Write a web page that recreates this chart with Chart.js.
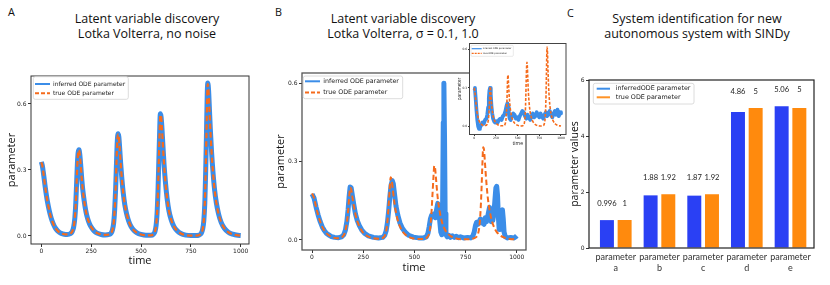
<!DOCTYPE html>
<html>
<head>
<meta charset="utf-8">
<script src="https://cdn.jsdelivr.net/npm/chart.js@4/dist/chart.umd.min.js"></script>
<style>
  body { margin: 0; background: #fff; width: 830px; height: 285px; position: relative; overflow: hidden;
         font-family: "Open Sans", sans-serif; color: #111; }
  canvas { position: absolute; }
  .title { position: absolute; text-align: center; font-size: 12.5px; line-height: 15.3px; white-space: nowrap; }
  .letter { position: absolute; font-size: 10.8px; line-height: 10.8px; }
</style>
</head>
<body>
<div class="letter" style="left:8px;top:7.2px">A</div>
<div class="letter" style="left:275px;top:7.2px">B</div>
<div class="letter" style="left:567px;top:7.8px">C</div>

<div class="title" style="left:47px;width:200px;top:10.6px">Latent variable discovery<br>Lotka Volterra, no noise</div>
<div class="title" style="left:303px;width:200px;top:10.6px">Latent variable discovery<br>Lotka Volterra, σ = 0.1, 1.0</div>
<div class="title" style="left:587px;width:220px;top:10.6px">System identification for new<br>autonomous system with SINDy</div>

<canvas id="chartA" width="255" height="210" style="left:0;top:70px"></canvas>
<canvas id="chartB" width="260" height="214" style="left:272px;top:66px"></canvas>
<canvas id="chartInset" width="113" height="108" style="left:455px;top:40px"></canvas>
<canvas id="chartC" width="264" height="211" style="left:556px;top:74px"></canvas>

<script>
// -----------------------
// DATA
// -----------------------

const timeTicks = [0, 250, 500, 750, 1000];
const paramTicks = [0, 0.3, 0.6];

// panel A (no noise): inferred and true curves sit on top of each other
const timeA = [0,5,10,20,30,40,50,60,70,80,90,100,115,130,145,155,162,168,173,177,181,185,189,193,197,202,208,215,223,232,242,253,265,280,300,320,340,350,357,363,368,373,377,381,385,389,393,398,404,411,419,428,438,450,465,480,500,525,550,562,570,576,581,585,589,593,597,601,605,610,616,623,631,640,651,664,680,700,725,750,775,792,802,809,815,820,824,828,832,835,839,843,848,854,861,869,878,889,902,918,938,960,985,1000];
const trueA = [0.335,0.32,0.29,0.22,0.16,0.115,0.08,0.055,0.037,0.025,0.017,0.012,0.008,0.007,0.01,0.02,0.04,0.08,0.15,0.24,0.33,0.38,0.39,0.37,0.33,0.27,0.21,0.16,0.115,0.08,0.055,0.037,0.023,0.013,0.007,0.005,0.007,0.013,0.028,0.06,0.12,0.22,0.33,0.43,0.462,0.45,0.4,0.33,0.26,0.195,0.14,0.1,0.068,0.043,0.025,0.014,0.007,0.003,0.003,0.008,0.02,0.05,0.11,0.2,0.33,0.46,0.55,0.54,0.49,0.41,0.32,0.24,0.17,0.115,0.075,0.045,0.025,0.011,0.004,0.002,0.002,0.005,0.012,0.03,0.07,0.15,0.28,0.45,0.64,0.69,0.66,0.58,0.48,0.38,0.29,0.21,0.15,0.1,0.062,0.035,0.017,0.008,0.003,0.002];
const inferredA = [0.337,0.32,0.29,0.22,0.16,0.115,0.08,0.055,0.037,0.025,0.017,0.012,0.008,0.007,0.01,0.02,0.04,0.08,0.15,0.24,0.33,0.38,0.392,0.37,0.33,0.27,0.21,0.16,0.115,0.08,0.055,0.037,0.023,0.013,0.007,0.005,0.007,0.013,0.028,0.06,0.12,0.22,0.33,0.43,0.465,0.45,0.4,0.33,0.26,0.195,0.14,0.1,0.068,0.043,0.025,0.014,0.007,0.003,0.003,0.008,0.02,0.05,0.11,0.2,0.33,0.46,0.555,0.54,0.49,0.41,0.32,0.24,0.17,0.115,0.075,0.045,0.025,0.011,0.004,0.002,0.002,0.005,0.012,0.03,0.07,0.15,0.28,0.45,0.64,0.695,0.66,0.58,0.48,0.38,0.29,0.21,0.15,0.1,0.062,0.035,0.017,0.008,0.003,0.002];

// panel B (sigma = 0.1)
const timeTrueB = [0,10,20,30,40,50,60,70,80,95,110,130,145,155,163,170,176,181,186,191,197,204,212,221,231,243,257,275,300,325,345,355,362,368,374,379,384,389,395,402,410,419,429,441,455,472,495,520,545,560,570,577,583,588,593,597,601,606,612,619,627,636,647,660,677,700,730,760,785,800,810,817,823,828,832,836,840,845,851,858,866,875,886,900,918,940,965,1000];
const trueB = [0.178,0.16,0.125,0.095,0.07,0.05,0.036,0.026,0.019,0.012,0.008,0.007,0.01,0.018,0.035,0.065,0.11,0.16,0.2,0.195,0.165,0.13,0.098,0.072,0.052,0.035,0.022,0.013,0.007,0.005,0.008,0.016,0.035,0.07,0.13,0.19,0.24,0.23,0.19,0.145,0.105,0.075,0.052,0.034,0.021,0.012,0.006,0.004,0.004,0.009,0.02,0.045,0.1,0.17,0.24,0.284,0.275,0.23,0.175,0.13,0.094,0.065,0.043,0.027,0.015,0.007,0.003,0.003,0.005,0.01,0.022,0.05,0.11,0.2,0.29,0.355,0.345,0.29,0.225,0.165,0.12,0.083,0.055,0.033,0.018,0.009,0.004,0.002];
const timeInferredB = [0,10,20,30,40,50,60,70,80,95,110,130,145,155,163,170,176,181,186,191,197,204,212,221,231,243,257,275,300,325,345,355,362,368,374,380,386,392,397,403,410,419,429,441,455,472,495,520,545,558,566,572,578,584,590,596,602,608,614,619,624,629,634,638,641,644,647,650,654,660,668,676,685,695,705,715,725,740,760,775,785,792,798,804,810,816,822,828,834,840,846,852,858,863,867,871,875,879,883,888,893,898,902,906,910,914,918,922,926,930,934,938,944,955,970,985,995,1000];
const inferredB = [0.176,0.16,0.125,0.095,0.07,0.05,0.036,0.026,0.02,0.013,0.01,0.009,0.012,0.02,0.038,0.07,0.115,0.165,0.203,0.2,0.17,0.135,0.1,0.074,0.055,0.038,0.025,0.016,0.01,0.008,0.01,0.018,0.035,0.065,0.11,0.165,0.21,0.227,0.215,0.175,0.13,0.095,0.066,0.045,0.03,0.018,0.011,0.008,0.008,0.012,0.025,0.05,0.08,0.095,0.09,0.1,0.085,0.115,0.14,0.12,0.07,0.03,0.02,0.15,0.45,0.6,0.4,0.1,0.02,0.012,0.018,0.01,0.016,0.01,0.014,0.009,0.012,0.008,0.01,0.008,0.015,0.03,0.055,0.068,0.06,0.07,0.08,0.065,0.075,0.06,0.085,0.07,0.09,0.11,0.125,0.09,0.07,0.085,0.075,0.1,0.15,0.2,0.205,0.17,0.09,0.04,0.06,0.09,0.11,0.115,0.08,0.03,0.012,0.008,0.01,0.008,0.012,0.016];

// inset (sigma = 1.0)
const timeTrueInset = [0,10,20,30,40,55,70,90,110,130,148,160,168,174,179,183,187,192,198,206,216,228,243,262,285,310,335,352,362,370,376,381,385,389,394,400,408,418,430,445,465,490,520,550,568,580,588,594,599,604,608,612,617,624,633,645,660,680,705,735,770,795,808,818,826,832,837,841,845,850,857,866,878,893,912,935,960,1000];
const trueInset = [0.3,0.25,0.18,0.12,0.08,0.045,0.025,0.012,0.006,0.006,0.015,0.04,0.09,0.17,0.26,0.31,0.3,0.25,0.19,0.13,0.085,0.055,0.032,0.017,0.008,0.004,0.004,0.012,0.035,0.09,0.18,0.3,0.38,0.4,0.35,0.27,0.19,0.125,0.08,0.048,0.025,0.011,0.004,0.003,0.01,0.035,0.1,0.22,0.36,0.47,0.5,0.47,0.38,0.27,0.18,0.11,0.065,0.033,0.014,0.005,0.002,0.006,0.02,0.07,0.2,0.4,0.58,0.62,0.57,0.45,0.32,0.21,0.13,0.075,0.04,0.018,0.008,0.002];
const timeInferredInset = [0,8,16,25,35,45,55,65,80,95,110,125,140,150,160,168,175,182,190,198,207,217,228,240,255,270,285,300,315,330,345,360,372,382,390,398,408,420,435,450,465,480,495,510,525,540,555,570,585,600,615,630,645,660,675,690,705,720,735,750,765,780,795,810,825,840,855,870,885,900,915,930,945,960,975,990,1000];
const inferredInset = [0.3,0.29,0.22,0.13,0.05,0.0,-0.02,-0.01,0.01,0.03,0.02,0.05,0.06,0.09,0.15,0.22,0.28,0.3,0.25,0.16,0.1,0.06,0.04,0.03,0.04,0.03,0.05,0.06,0.05,0.08,0.09,0.12,0.16,0.18,0.15,0.1,0.06,0.05,0.08,0.1,0.09,0.06,0.07,0.05,0.08,0.1,0.12,0.11,0.08,0.06,0.09,0.07,0.05,0.08,0.1,0.07,0.08,0.11,0.09,0.07,0.1,0.08,0.06,0.09,0.11,0.08,0.1,0.12,0.09,0.07,0.1,0.12,0.09,0.13,0.08,0.11,0.1];

// panel C
const paramNames = [['parameter', 'a'], ['parameter', 'b'], ['parameter', 'c'], ['parameter', 'd'], ['parameter', 'e']];
const inferredParams = [0.996, 1.88, 1.87, 4.86, 5.06];
const trueParams = [1, 1.92, 1.92, 5, 5];
const valueTicks = [0, 2, 4, 6];

// -----------------------
// HELPERS / PLUGINS
// -----------------------

const BLUE = '#3b8de8';
const ORANGE = '#f56b1c';
const tickFont = { family: 'DejaVu Sans', size: 6 };

function pts(t, v) {
    return t.map((x, i) => ({ x: x, y: v[i] }));
}

// full box around the plot area, like matplotlib spines
const frame = {
    id: 'frame',
    beforeDraw(chart, args, o) {
        if (!o.fill) return;
        const a = chart.chartArea;
        chart.ctx.save();
        chart.ctx.fillStyle = o.fill;
        chart.ctx.fillRect(a.left, a.top, a.width, a.height);
        chart.ctx.restore();
    },
    afterDatasetsDraw(chart, args, o) {
        const { ctx, chartArea: a } = chart;
        ctx.save();
        ctx.strokeStyle = o.color || '#333';
        ctx.lineWidth = o.width || 1;
        ctx.strokeRect(a.left, a.top, a.width, a.height);
        ctx.restore();
    }
};

// legend box drawn inside the plot area
const boxLegend = {
    id: 'boxLegend',
    afterDatasetsDraw(chart, args, o) {
        const { ctx, chartArea: a } = chart;
        ctx.save();
        ctx.fillStyle = 'rgba(255,255,255,0.85)';
        ctx.strokeStyle = '#d3d3d3';
        ctx.lineWidth = o.border || 0.8;
        ctx.beginPath();
        ctx.roundRect(a.left + o.x, a.top + o.y, o.w, o.h, o.r || 2);
        ctx.fill();
        ctx.stroke();
        ctx.font = o.font;
        ctx.textBaseline = 'middle';
        chart.data.datasets.forEach((ds, i) => {
            const ry = a.top + o.rows[i];
            ctx.strokeStyle = ds.legendColor || ds.borderColor;
            ctx.lineWidth = o.lineWidth;
            ctx.setLineDash(ds.borderDash ? o.dash : []);
            ctx.beginPath();
            ctx.moveTo(a.left + o.line[0], ry);
            ctx.lineTo(a.left + o.line[1], ry);
            ctx.stroke();
            ctx.setLineDash([]);
            ctx.fillStyle = '#222';
            ctx.fillText(ds.label, a.left + o.textX, ry);
        });
        ctx.restore();
    }
};

// numbers above the bars, at the taller bar of the pair + 0.5
const barValues = {
    id: 'barValues',
    afterDatasetsDraw(chart, args, o) {
        if (!o.font) return;
        const { ctx } = chart;
        const y = chart.scales.y;
        ctx.save();
        ctx.font = o.font;
        ctx.fillStyle = '#222';
        ctx.textAlign = 'center';
        ctx.textBaseline = 'alphabetic';
        chart.data.datasets.forEach((ds, di) => {
            chart.getDatasetMeta(di).data.forEach((bar, i) => {
                const top = Math.max(...chart.data.datasets.map(d => d.data[i].y));
                ctx.fillText(String(ds.data[i].y), bar.x, y.getPixelForValue(top + 0.5));
            });
        });
        ctx.restore();
    }
};

function timeAxis(min, max, height, titlePad, opts) {
    return {
        type: 'linear', min: min, max: max,
        afterBuildTicks: s => { s.ticks = opts.ticks.map(v => ({ value: v })); },
        afterFit: s => { s.height = height; },
        ticks: { font: opts.font || tickFont, color: '#222', padding: opts.tickPad ?? 0.5, maxRotation: 0, autoSkip: false,
                 callback: v => String(v) },
        grid: { drawOnChartArea: false, drawTicks: true, tickLength: opts.tickLen || 3, color: '#333' },
        border: { display: false },
        title: { display: true, text: 'time', font: { family: 'Open Sans', size: opts.titleSize || 11 }, color: '#111',
                 padding: { top: 0, bottom: titlePad } }
    };
}

function paramAxis(min, max, width, titlePad, opts) {
    return {
        type: 'linear', min: min, max: max,
        afterBuildTicks: s => { s.ticks = opts.ticks.map(v => ({ value: v })); },
        afterFit: s => { s.width = width; },
        ticks: { font: opts.font || tickFont, color: '#222', padding: opts.tickPad ?? 1.5,
                 callback: v => v.toFixed(1) },
        grid: { drawOnChartArea: false, drawTicks: true, tickLength: opts.tickLen || 3, color: '#333' },
        border: { display: false },
        title: { display: true, text: 'parameter', font: { family: 'Open Sans', size: opts.titleSize || 11 }, color: '#111',
                 padding: { top: titlePad, bottom: 0 } }
    };
}

const common = {
    responsive: false,
    animation: false,
    devicePixelRatio: 1
};

// -----------------------
// PANEL A
// -----------------------

new Chart(document.getElementById('chartA'), {
    type: 'line',
    data: {
        datasets: [{
            label: 'inferred ODE parameter',
            data: pts(timeA, inferredA),
            borderColor: BLUE, borderWidth: 5, pointRadius: 0,
            cubicInterpolationMode: 'monotone', borderJoinStyle: 'round', order: 1
        }, {
            label: 'true ODE parameter',
            data: pts(timeA, trueA),
            borderColor: ORANGE, borderWidth: 2.2, borderDash: [5.5, 3], pointRadius: 0,
            cubicInterpolationMode: 'monotone', order: 0
        }]
    },
    options: {
        ...common,
        layout: { padding: { top: 6, right: 6, left: 0, bottom: 0 } },
        scales: {
            x: timeAxis(-51.7, 1041.6, 36, 12.4, { ticks: timeTicks }),
            y: paramAxis(-0.0364, 0.727, 31, 5, { ticks: paramTicks })
        },
        plugins: {
            legend: { display: false }, tooltip: { enabled: false },
            frame: { color: '#333', width: 1 },
            boxLegend: { x: 2.3, y: 0.7, w: 95, h: 22.6, rows: [8, 17.3], line: [4, 19], textX: 22,
                         font: '6px "DejaVu Sans"', lineWidth: 2, dash: [4, 2] }
        }
    },
    plugins: [frame, boxLegend]
});

// -----------------------
// PANEL B
// -----------------------

new Chart(document.getElementById('chartB'), {
    type: 'line',
    data: {
        datasets: [{
            label: 'inferred ODE parameter',
            data: pts(timeInferredB, inferredB),
            borderColor: BLUE, borderWidth: 5, pointRadius: 0, tension: 0,
            borderJoinStyle: 'round', order: 1
        }, {
            label: 'true ODE parameter',
            data: pts(timeTrueB, trueB),
            borderColor: ORANGE, borderWidth: 2, borderDash: [5.5, 3], pointRadius: 0,
            cubicInterpolationMode: 'monotone', order: 0
        }]
    },
    options: {
        ...common,
        layout: { padding: { top: 7, right: 6, left: 0, bottom: 0 } },
        scales: {
            x: timeAxis(-49, 1045, 30, 5.4, { ticks: timeTicks }),
            y: paramAxis(-0.0383, 0.639, 30, 2.2, { ticks: paramTicks })
        },
        plugins: {
            legend: { display: false }, tooltip: { enabled: false },
            frame: { color: '#555', width: 1.3 },
            boxLegend: { x: 1.3, y: 3, w: 99.4, h: 22.7, rows: [8.3, 19.5], line: [3, 18], textX: 21.3,
                         font: '6.3px "DejaVu Sans"', lineWidth: 2, dash: [4, 2] }
        }
    },
    plugins: [frame, boxLegend]
});

// -----------------------
// INSET (in panel B)
// -----------------------

new Chart(document.getElementById('chartInset'), {
    type: 'line',
    data: {
        datasets: [{
            label: 'inferred ODE parameter',
            data: pts(timeInferredInset, inferredInset),
            borderColor: BLUE, borderWidth: 3.8, pointRadius: 0, tension: 0,
            borderJoinStyle: 'round', order: 1
        }, {
            label: 'true ODE parameter',
            data: pts(timeTrueInset, trueInset),
            borderColor: ORANGE, borderWidth: 1.6, borderDash: [3, 1.6], pointRadius: 0,
            cubicInterpolationMode: 'monotone', order: 0
        }]
    },
    options: {
        ...common,
        layout: { padding: { top: 3.5, right: 2, left: 0, bottom: 0 } },
        scales: {
            x: timeAxis(-55, 1058, 13.5, 1, { ticks: timeTicks, font: { family: 'DejaVu Sans', size: 3 },
                                               tickLen: 1.5, tickPad: 0.3, titleSize: 5 }),
            y: paramAxis(-0.064, 0.648, 14.5, 2, { ticks: paramTicks, font: { family: 'DejaVu Sans', size: 3 },
                                                    tickLen: 1.5, tickPad: 0.8, titleSize: 4.6 })
        },
        plugins: {
            legend: { display: false }, tooltip: { enabled: false },
            frame: { color: '#444', width: 1, fill: '#fff' },
            boxLegend: { x: 1.5, y: 1.8, w: 42.3, h: 11, rows: [5.2, 9.8], line: [2.2, 12.2], textX: 13.2,
                         font: '2.4px "DejaVu Sans"', lineWidth: 1.2, dash: [2, 1], border: 0.5, r: 1 }
        }
    },
    plugins: [frame, boxLegend]
});

// -----------------------
// PANEL C
// -----------------------

new Chart(document.getElementById('chartC'), {
    type: 'bar',
    data: {
        datasets: [{
            label: 'inferredODE parameter',
            data: inferredParams.map((v, i) => ({ x: i, y: v })),
            backgroundColor: '#2a40f4', legendColor: '#3b8de8',
            categoryPercentage: 0.81, barPercentage: 0.79
        }, {
            label: 'true ODE parameter',
            data: trueParams.map((v, i) => ({ x: i, y: v })),
            backgroundColor: '#ff8a0d', legendColor: '#ff9326',
            categoryPercentage: 0.81, barPercentage: 0.79
        }]
    },
    options: {
        ...common,
        layout: { padding: { top: 6, right: 6, left: 0, bottom: 0 } },
        scales: {
            x: {
                type: 'linear', min: -0.613, max: 4.538, offset: false,
                afterBuildTicks: s => { s.ticks = paramNames.map((n, i) => ({ value: i })); },
                afterFit: s => { s.height = 37; },
                ticks: { font: { family: 'Lato', size: 9, lineHeight: 1.22 }, color: '#333', padding: 3.5,
                         maxRotation: 0, autoSkip: false, callback: v => paramNames[v] },
                grid: { display: false, drawTicks: false, offset: false },
                border: { display: false }
            },
            y: {
                type: 'linear', min: 0, max: 6,
                afterBuildTicks: s => { s.ticks = valueTicks.map(v => ({ value: v })); },
                afterFit: s => { s.width = 33; },
                ticks: { font: tickFont, color: '#222', padding: 1.5 },
                grid: { drawOnChartArea: false, drawTicks: true, tickLength: 3, color: '#333' },
                border: { display: false },
                title: { display: true, text: 'parameter values', font: { family: 'Open Sans', size: 10.5 }, color: '#111',
                         padding: { top: 12.7, bottom: 0 } }
            }
        },
        plugins: {
            legend: { display: false }, tooltip: { enabled: false },
            frame: { color: '#222', width: 1.2 },
            boxLegend: { x: 4.3, y: 3.3, w: 100.7, h: 20.7, rows: [8.7, 17.3], line: [7.7, 21], textX: 26.7,
                         font: '6.4px "DejaVu Sans"', lineWidth: 2, dash: [] },
            barValues: { font: '7.6px Lato' }
        }
    },
    plugins: [frame, boxLegend, barValues]
});
</script>
</body>
</html>
